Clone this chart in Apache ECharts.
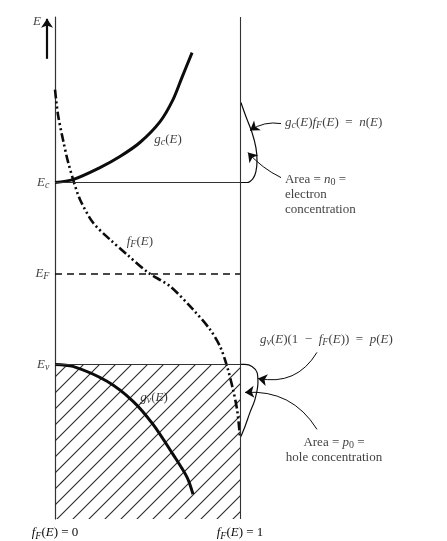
<!DOCTYPE html>
<html>
<head>
<meta charset="utf-8">
<script src="https://cdn.jsdelivr.net/npm/echarts@6/dist/echarts.min.js"></script>
<style>
  html, body { margin: 0; background: #fff; }
  #chart { width: 447px; height: 541px; }
</style>
</head>
<body>
<div id="chart"></div>
<script>
// energy in gap units (Ev = 0, Ec = 1), x = fF(E) from 0 to 1, densities on the same scale
const levelValues = [1, 0.5, 0] // Ec, EF, Ev
const edgeTicks = { 0: '{i|f}{s|F}({i|E}) = 0', 1: '{i|f}{s|F}({i|E}) = 1' }

const gcCurve = [[0, 1], [0.097, 1.016], [0.243, 1.082], [0.351, 1.143], [0.459, 1.22], [0.568, 1.335], [0.638, 1.456], [0.686, 1.577], [0.741, 1.714]]
const gvCurve = [[0, 0], [0.097, -0.011], [0.281, -0.093], [0.422, -0.203], [0.53, -0.33], [0.638, -0.495], [0.714, -0.621], [0.746, -0.714]]
const fermiCurve = [[0, 1.511], [0.016, 1.374], [0.043, 1.236], [0.07, 1.115], [0.103, 1], [0.135, 0.907], [0.205, 0.78], [0.297, 0.687],
  [0.389, 0.604], [0.503, 0.505], [0.622, 0.429], [0.746, 0.302], [0.838, 0.192], [0.892, 0.099], [0.93, -0.011], [0.962, -0.137],
  [0.984, -0.247], [1, -0.396]]
const nCurve = [[1, 1], [1.038, 1], [1.07, 1.022], [1.086, 1.06], [1.092, 1.121], [1.086, 1.192], [1.065, 1.275], [1.032, 1.363], [1.005, 1.44]]
const pCurve = [[1, 0], [1.027, 0], [1.065, -0.011], [1.092, -0.044], [1.097, -0.099], [1.081, -0.192], [1.054, -0.264], [1.027, -0.341], [1.005, -0.396]]

const font = 'Liberation Serif'
const ink = '#0c0c0c'
const rich = {
  i: { fontStyle: 'italic', fontFamily: font, fontSize: 13, lineHeight: 16, color: ink },
  s: { fontStyle: 'italic', fontFamily: font, fontSize: 10, lineHeight: 8, verticalAlign: 'bottom', color: ink },
  o: { fontFamily: font, fontSize: 10, lineHeight: 8, verticalAlign: 'bottom', color: ink }
}

// label text and where it sits, in chart units
const notes = [
  { text: '{i|E}', at: [-0.097, 1.885], align: 'center' },
  { text: '{i|E}{s|c}', at: [-0.03, 1.0], align: 'right' },
  { text: '{i|E}{s|F}', at: [-0.03, 0.5], align: 'right' },
  { text: '{i|E}{s|v}', at: [-0.03, 0.0], align: 'right' },
  { text: '{i|g}{s|c}({i|E})', at: [0.611, 1.236], align: 'center' },
  { text: '{i|f}{s|F}({i|E})', at: [0.459, 0.676], align: 'center' },
  { text: '{i|g}{s|v}({i|E})', at: [0.535, -0.181], align: 'center' },
  { text: '{i|g}{s|c}({i|E}){i|f}{s|F}({i|E})  =  {i|n}({i|E})', at: [1.243, 1.33], align: 'left' },
  { text: 'Area = {i|n}{o|0} =\nelectron\nconcentration', at: [1.243, 0.934], align: 'left' },
  { text: '{i|g}{s|v}({i|E})(1  −  {i|f}{s|F}({i|E}))  =  {i|p}({i|E})', at: [1.108, 0.137], align: 'left' },
  { text: 'Area = {i|p}{o|0} =\nhole concentration', at: [1.508, -0.47], align: 'center' }
]

// pointer arrows: [from, to, curveness, width]
const pointers = [
  [[-0.043, 1.68], [-0.043, 1.9], 0, 2.2],
  [[1.222, 1.324], [1.054, 1.286], -0.2, 1],
  [[1.222, 1.027], [1.043, 1.165], 0.1, 1],
  [[1.416, 0.066], [1.097, -0.077], 0.35, 1],
  [[1.416, -0.357], [1.027, -0.154], -0.3, 1]
]

const tile = document.createElement('canvas')
tile.width = tile.height = 16
const tc = tile.getContext('2d')
tc.strokeStyle = '#2a2a2a'
tc.lineWidth = 1.1
tc.beginPath()
tc.moveTo(0, 16); tc.lineTo(16, 0)
tc.moveTo(-2, 2); tc.lineTo(2, -2)
tc.moveTo(14, 18); tc.lineTo(18, 14)
tc.stroke()

const chart = echarts.init(document.getElementById('chart'))

const curve = (data, width, type) => ({
  type: 'line',
  data,
  smooth: 0.3,
  showSymbol: false,
  silent: true,
  z: 3,
  lineStyle: { color: ink, width, type: type || 'solid', cap: 'butt' }
})

const segment = (a, b, style) => [{ coord: a, symbol: 'none', lineStyle: style }, { coord: b, symbol: 'none' }]

const guideLines = [
  segment([0, levelValues[0]], [1, levelValues[0]], { width: 1, type: 'solid', color: '#333' }),
  segment([0, levelValues[1]], [1, levelValues[1]], { width: 1.6, type: [7, 5], color: ink }),
  segment([0, levelValues[2]], [1, levelValues[2]], { width: 1.2, type: 'solid', color: '#333' }),
  segment([1, -0.85], [1, 1.91], { width: 1.1, type: 'solid', color: '#333' })
]

chart.setOption({
  backgroundColor: '#fff',
  animation: false,
  grid: { left: 18, right: 3.5, top: 17, bottom: 21 },
  xAxis: {
    type: 'value', min: -0.2, max: 2.1, interval: 0.1,
    axisLine: { show: false }, axisTick: { show: false }, splitLine: { show: false },
    axisLabel: {
      margin: 6, fontFamily: font, fontSize: 13, color: ink, rich,
      showMinLabel: false, showMaxLabel: false,
      formatter: v => {
        const k = Math.round(v * 10) / 10
        return edgeTicks[k] || ''
      }
    }
  },
  yAxis: {
    type: 'value', min: -0.85, max: 1.91,
    axisLine: { show: true, onZero: true, lineStyle: { color: '#333', width: 1.2 } },
    axisTick: { show: false }, axisLabel: { show: false }, splitLine: { show: false }
  },
  series: [
    {
      type: 'scatter',
      z: 1,
      silent: true,
      symbolSize: 0,
      data: notes.map(n => ({
        value: n.at,
        label: {
          show: true, position: 'inside', align: n.align, verticalAlign: 'middle',
          formatter: n.text, fontFamily: font, fontSize: 13, lineHeight: 15, color: ink, rich
        }
      })),
      markArea: {
        silent: true,
        itemStyle: { color: { image: tile, repeat: 'repeat' } },
        data: [[{ xAxis: 0, yAxis: -0.85 }, { xAxis: 1, yAxis: 0 }]]
      },
      markLine: {
        silent: true,
        symbol: ['none', 'none'],
        label: { show: false },
        data: guideLines
      }
    },
    {
      type: 'lines',
      coordinateSystem: 'cartesian2d',
      silent: true,
      z: 4,
      symbol: ['none', 'arrow'],
      symbolSize: [7, 9],
      data: pointers.map(p => ({
        coords: [p[0], p[1]],
        lineStyle: { color: ink, width: p[3], curveness: p[2], opacity: 1 }
      }))
    },
    curve(gcCurve, 3),
    curve(gvCurve, 3),
    curve(fermiCurve, 2.6, [9, 3, 2, 3, 2, 3]),
    curve(nCurve, 1.2),
    curve(pCurve, 1.2)
  ]
})
</script>
</body>
</html>
